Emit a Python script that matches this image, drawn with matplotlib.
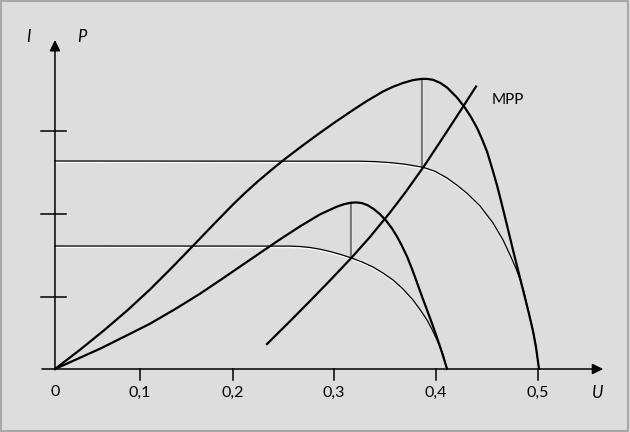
import matplotlib
matplotlib.use("Agg")
import matplotlib.pyplot as plt
import matplotlib.patheffects as pe

# U in volts, current / power in relative units
p_big_u = [0, 0.0259, 0.0518, 0.0751, 0.0983, 0.1206, 0.1429, 0.1636, 0.1843, 0.1972,
           0.2101, 0.2231, 0.2360, 0.2536, 0.2712, 0.2883, 0.3054, 0.3225, 0.3395, 0.3499,
           0.3602, 0.3701, 0.3747, 0.3799, 0.3851, 0.3913, 0.3986, 0.4058, 0.4161, 0.4244,
           0.4306, 0.4369, 0.4420, 0.4472, 0.4524, 0.4576, 0.4617, 0.4658, 0.4741, 0.4824,
           0.4907, 0.4948, 0.4979, 0.5010]
p_big_v = [0, 0.192, 0.395, 0.588, 0.795, 1.01, 1.232, 1.44, 1.645, 1.765,
           1.877, 1.983, 2.085, 2.215, 2.34, 2.4575, 2.57, 2.678, 2.775, 2.8225,
           2.86, 2.8876, 2.895, 2.901, 2.901, 2.892, 2.862, 2.815, 2.715, 2.612,
           2.52, 2.41, 2.30, 2.175, 2.01, 1.835, 1.68, 1.52, 1.19, 0.87,
           0.55, 0.38, 0.22, 0]

i_big_u = [0, 0.3157, 0.3313, 0.3468, 0.3623, 0.3810, 0.3934, 0.4058, 0.4161, 0.4265,
           0.4400, 0.4534, 0.4638, 0.4720, 0.4772, 0.4814, 0.4855, 0.4907, 0.4948,
           0.4979, 0.5010]
i_big_v = [2.08, 2.078, 2.074, 2.064, 2.048, 2.017, 1.977, 1.91, 1.838, 1.757,
           1.63, 1.46, 1.29, 1.12, 1.005, 0.895, 0.77, 0.55, 0.38,
           0.22, 0]

p_small_u = [0, 0.0466, 0.0725, 0.0983, 0.1242, 0.1501, 0.1760, 0.2019, 0.2329, 0.2536,
             0.2743, 0.2919, 0.2992, 0.3054, 0.3116, 0.3178, 0.3240, 0.3302, 0.3364,
             0.3427, 0.3489, 0.3540, 0.3592, 0.3644, 0.3696, 0.3747, 0.3799, 0.3851,
             0.3903, 0.3954, 0.4006, 0.4058]
p_small_v = [0, 0.2025, 0.327, 0.4525, 0.598, 0.7525, 0.921, 1.0925, 1.296, 1.426,
             1.546, 1.624, 1.648, 1.661, 1.666, 1.659, 1.636, 1.598, 1.548,
             1.484, 1.405, 1.325, 1.23, 1.125, 1.00, 0.865, 0.725, 0.59,
             0.455, 0.315, 0.165, 0]

i_small_u = [0, 0.2433, 0.2536, 0.2640, 0.2743, 0.2847, 0.2961, 0.3069, 0.3178, 0.3292,
             0.3395, 0.3499, 0.3602, 0.3706, 0.3778, 0.3851, 0.3903, 0.3954, 0.3996,
             0.4027, 0.4058]
i_small_v = [1.23, 1.229, 1.225, 1.215, 1.198, 1.175, 1.144, 1.11, 1.07, 1.02,
             0.96, 0.89, 0.80, 0.69, 0.595, 0.49, 0.395, 0.29, 0.195,
             0.11, 0]

mpp_u = [0.2195, 0.2433, 0.2640, 0.2847, 0.3064, 0.3261, 0.3468, 0.3623, 0.3810,
         0.4017, 0.4224, 0.4358]
mpp_v = [0.25, 0.478, 0.68, 0.886, 1.107, 1.321, 1.565, 1.761, 2.014,
         2.316, 2.623, 2.825]

# maximum power points: (U, I at MPP, P max)
mpp_points = [(0.3061, 1.11, 1.663), (0.3802, 2.017, 2.901)]

x_ticks = [0.088, 0.184, 0.289, 0.394, 0.5]
x_labels = ["0,1", "0,2", "0,3", "0,4", "0,5"]
y_ticks = [0.717, 1.55, 2.383]

BG = "#dddddd"

fig = plt.figure(figsize=(6.3, 4.32), dpi=100, facecolor=BG)
ax = fig.add_axes([0, 0, 1, 1])
ax.set_facecolor(BG)
ax.set_xlim(-0.0569, 0.5952)
ax.set_ylim(-0.63, 3.69)
ax.axis("off")

# frame around the picture
fig.patches.append(plt.Rectangle((0.002, 0.003), 0.995, 0.994, transform=fig.transFigure,
                                 fill=False, edgecolor="#a8a8a8", lw=1.5))

thin_fx = [pe.SimpleLineShadow(offset=(0.3, -1.0), shadow_color="white", alpha=1.0),
           pe.Normal()]

# I-V curves (thin) and P-V curves (thick)
ax.plot(i_big_u, i_big_v, color="black", lw=0.9, path_effects=thin_fx, zorder=3)
ax.plot(i_small_u, i_small_v, color="black", lw=0.9, path_effects=thin_fx, zorder=3)
for u, i_mpp, p_max in mpp_points:
    ax.plot([u, u], [i_mpp, p_max], color="#7a7a7a", lw=1.6, zorder=2,
            path_effects=[pe.SimpleLineShadow(offset=(0.8, 0), shadow_color="#f2f2f2", alpha=1.0),
                          pe.Normal()])
ax.plot(p_big_u, p_big_v, color="black", lw=1.6, zorder=4, solid_joinstyle="round")
ax.plot(p_small_u, p_small_v, color="black", lw=1.6, zorder=4, solid_joinstyle="round")
ax.plot(mpp_u, mpp_v, color="black", lw=1.6, zorder=4, solid_joinstyle="round")

# axes with arrows
arrow = dict(arrowstyle="-|>,head_length=0.65,head_width=0.32", color="black",
             lw=1.1, shrinkA=0, shrinkB=0, mutation_scale=10)
ax.annotate("", xy=(0.5675, 0), xytext=(-0.0135, 0), arrowprops=arrow, zorder=5)
ax.annotate("", xy=(0, 3.29), xytext=(0, 0), arrowprops=arrow, zorder=5)

for t in x_ticks:
    ax.plot([t, t], [0, -0.11], color="black", lw=1.1)
for t in y_ticks:
    ax.plot([-0.0145, 0.0114], [t, t], color="black", lw=1.1)

font = "Lato"
ax.text(0, -0.235, "0", ha="center", va="center", fontsize=11.5, family=font)
for t, lab in zip(x_ticks, x_labels):
    ax.text(t, -0.235, lab, ha="center", va="center", fontsize=11.5, family=font)
ax.text(0.562, -0.237, "U", ha="center", va="center", fontsize=12, family=font, style="italic")
ax.text(-0.0276, 3.323, "I", ha="center", va="center", fontsize=12, family=font, style="italic")
ax.text(0.0276, 3.323, "P", ha="center", va="center", fontsize=12, family=font, style="italic")
ax.text(0.469, 2.69, "MPP", ha="center", va="center", fontsize=11, family=font)

fig.savefig("out.png", dpi=100, facecolor=BG)
